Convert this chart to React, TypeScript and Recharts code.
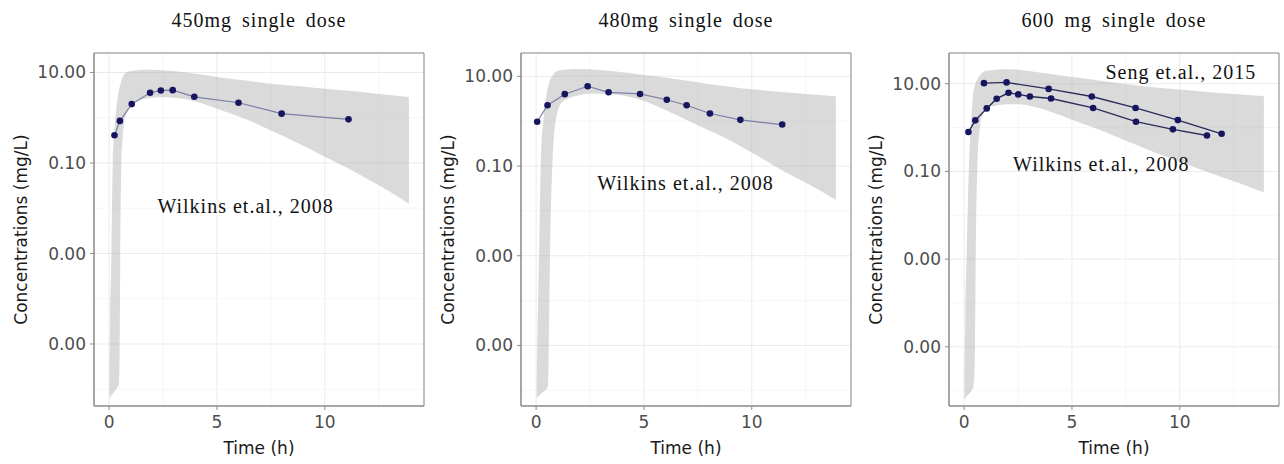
import React from "react";
import {
  ComposedChart,
  Line,
  Area,
  XAxis,
  YAxis,
  CartesianGrid,
  ReferenceArea,
  ReferenceDot,
} from "recharts";

const wilkins450Time = [0.25, 0.5, 1.05, 1.9, 2.4, 2.95, 3.95, 6, 8, 11.1];
const wilkins450Conc = [0.41, 0.85, 2.0, 3.55, 4.0, 4.07, 2.9, 2.14, 1.23, 0.92];

const wilkins480Time = [0.05, 0.53, 1.33, 2.39, 3.36, 4.82, 6.06, 6.98, 8.06, 9.47, 11.41];
const wilkins480Conc = [0.97, 2.27, 4.0, 6.0, 4.4, 4.05, 3.0, 2.27, 1.48, 1.07, 0.84];

const seng600Time = [0.92, 1.97, 3.92, 5.92, 7.95, 9.91, 11.94];
const seng600Conc = [10.3, 10.7, 7.6, 5.1, 2.8, 1.48, 0.72];

const wilkins600Time = [0.2, 0.52, 1.05, 1.51, 2.06, 2.51, 3.05, 4.03, 5.98, 7.97, 9.68, 11.26];
const wilkins600Conc = [0.79, 1.46, 2.73, 4.55, 6.2, 5.7, 5.1, 4.6, 2.8, 1.36, 0.91, 0.66];

// Simulated 90% prediction band, stored as log10(mg/L)
const band450Time = [0.02, 0.05, 0.11, 0.17, 0.23, 0.29, 0.37, 0.45, 0.49, 0.52, 0.57, 0.63, 0.7, 0.8, 1, 1.3, 1.6, 2, 2.5, 3, 4, 5, 6, 7, 8, 9, 10, 11, 12, 13, 13.9];
const band450Low = [-6.2, -6.18, -6.14, -6.1, -6.06, -6.02, -5.97, -5.9, -5.2, -3.0, -1.0, -0.45, -0.1, 0.1, 0.28, 0.36, 0.41, 0.44, 0.45, 0.44, 0.36, 0.2, 0.03, -0.17, -0.39, -0.62, -0.86, -1.1, -1.36, -1.63, -1.9];
const band450High = [-5.7, -4.5, -3.0, -1.0, -0.4, 0.0, 0.35, 0.6, 0.68, 0.74, 0.82, 0.9, 0.96, 1.0, 1.03, 1.05, 1.06, 1.06, 1.05, 1.03, 0.97, 0.9, 0.84, 0.78, 0.73, 0.69, 0.64, 0.6, 0.55, 0.5, 0.46];

const band480Time = [0.03, 0.08, 0.14, 0.22, 0.34, 0.5, 0.56, 0.6, 0.65, 0.76, 0.92, 1.2, 1.6, 2, 2.5, 3, 4, 5, 6, 7, 8, 9, 10, 11, 12, 13, 13.9];
const band480Low = [-6.18, -6.15, -6.12, -6.08, -6.03, -5.95, -5.87, -4.6, -2.9, -0.9, 0.04, 0.42, 0.53, 0.58, 0.61, 0.61, 0.57, 0.45, 0.25, 0.02, -0.2, -0.43, -0.7, -0.98, -1.25, -1.5, -1.76];
const band480High = [-5.8, -4.3, -2.9, -0.9, 0.04, 0.64, 0.78, 0.85, 0.92, 1.02, 1.1, 1.14, 1.16, 1.165, 1.16, 1.14, 1.09, 1.03, 0.97, 0.9, 0.83, 0.77, 0.71, 0.67, 0.63, 0.59, 0.556];

const band600Time = [0.02, 0.06, 0.12, 0.23, 0.31, 0.43, 0.5, 0.54, 0.62, 0.74, 0.85, 1, 1.5, 2, 2.5, 3, 4, 5, 6, 7, 8, 9, 10, 11, 12, 13, 13.9];
const band600Low = [-6.2, -6.17, -6.13, -6.07, -6.02, -5.92, -5.3, -2.86, -0.8, 0.03, 0.3, 0.45, 0.5, 0.53, 0.53, 0.5, 0.36, 0.18, 0.0, -0.2, -0.4, -0.6, -0.78, -0.96, -1.14, -1.31, -1.48];
const band600High = [-5.7, -4.2, -2.86, -0.8, 0.03, 0.8, 0.95, 1.02, 1.1, 1.2, 1.26, 1.29, 1.32, 1.33, 1.32, 1.29, 1.22, 1.15, 1.09, 1.02, 0.96, 0.91, 0.87, 0.82, 0.78, 0.75, 0.72];

const xTicks = [0, 5, 10];
const xMinorTicks = [2.5, 7.5, 12.5];
const yTicks = [10, 0.1, 0.001, 0.00001];
const yMinorTicks = [1, 0.01, 0.0001, 0.000001];

const X_DOMAIN: [number, number] = [-0.7, 14.6];

const SANS = "'DejaVu Sans', sans-serif";
const SERIF = "'Liberation Serif', 'Times New Roman', serif";
const DOT_COLOR = "#161660";

const points = (t: number[], c: number[]) => t.map((time, i) => ({ t: time, c: c[i] }));
const bandRows = (t: number[], lo: number[], hi: number[]) =>
  t.map((time, i) => ({ t: time, range: [10 ** lo[i], 10 ** hi[i]] }));

type Series = { name: string; data: { t: number; c: number }[]; color: string; width: number };
type Note = { text: string; t: number; c: number };

const renderYLabel = (props: any) => {
  const vb = props.viewBox;
  const x = vb.x + 21;
  const y = vb.y + vb.height / 2;
  return (
    <text
      x={x}
      y={y}
      transform={`rotate(-90 ${x} ${y})`}
      textAnchor="middle"
      dominantBaseline="central"
      fill="#1a1a1a"
      fontSize={17}
      fontFamily={SANS}
    >
      Concentrations (mg/L)
    </text>
  );
};

function Panel({
  title,
  left,
  yLogDomain,
  band,
  series,
  notes,
}: {
  title: string;
  left: number;
  yLogDomain: [number, number];
  band: { t: number; range: number[] }[];
  series: Series[];
  notes: Note[];
}) {
  const yDomain: [number, number] = [10 ** yLogDomain[0], 10 ** yLogDomain[1]];
  return (
    <div style={{ position: "absolute", left, top: 0, width: 428, height: 464 }}>
      <div
        style={{
          position: "absolute",
          left: 94,
          width: 330,
          top: 7,
          textAlign: "center",
          fontFamily: SERIF,
          fontSize: 20,
          lineHeight: "26px",
          letterSpacing: 1,
          wordSpacing: 4,
          color: "#111",
        }}
      >
        {title}
      </div>
      <ComposedChart width={428} height={464} margin={{ top: 53, right: 4, bottom: 0, left: 0 }}>
        <CartesianGrid stroke="#ebebeb" strokeWidth={1} />
        <CartesianGrid stroke="#f2f2f2" strokeWidth={0.7} xAxisId="minor" yAxisId="minor" />
        <XAxis
          xAxisId="minor"
          type="number"
          dataKey="t"
          domain={X_DOMAIN}
          ticks={xMinorTicks}
          allowDataOverflow
          hide
        />
        <YAxis
          yAxisId="minor"
          type="number"
          scale="log"
          domain={yDomain}
          ticks={yMinorTicks}
          allowDataOverflow
          hide
        />
        <XAxis
          type="number"
          dataKey="t"
          domain={X_DOMAIN}
          ticks={xTicks}
          allowDataOverflow
          height={58}
          tickSize={4}
          tickMargin={6}
          stroke="#8c8c8c"
          tick={{ fill: "#4d4d4d", fontSize: 17, fontFamily: SANS }}
          label={{
            value: "Time (h)",
            position: "insideBottom",
            offset: 10,
            fill: "#1a1a1a",
            fontSize: 17,
            fontFamily: SANS,
          }}
        />
        <YAxis
          type="number"
          scale="log"
          domain={yDomain}
          ticks={yTicks}
          allowDataOverflow
          width={94}
          tickSize={4}
          tickMargin={4}
          stroke="#8c8c8c"
          tickFormatter={(v: number) => v.toFixed(2)}
          tick={{ fill: "#4d4d4d", fontSize: 17, fontFamily: SANS }}
          label={renderYLabel}
        />
        <Area
          data={band}
          dataKey="range"
          type="monotone"
          stroke="none"
          fill="#a6a6a6"
          fillOpacity={0.42}
          isAnimationActive={false}
          activeDot={false}
        />
        {series.map((s) => (
          <Line
            key={s.name}
            name={s.name}
            data={s.data}
            dataKey="c"
            type="linear"
            stroke={s.color}
            strokeWidth={s.width}
            dot={{ r: 3.3, fill: DOT_COLOR, stroke: DOT_COLOR, strokeWidth: 0 }}
            activeDot={false}
            isAnimationActive={false}
          />
        ))}
        <ReferenceArea
          x1={X_DOMAIN[0]}
          x2={X_DOMAIN[1]}
          y1={yDomain[0]}
          y2={yDomain[1]}
          fill="none"
          stroke="#8c8c8c"
          strokeWidth={1}
        />
        {notes.map((n) => (
          <ReferenceDot
            key={n.text}
            x={n.t}
            y={n.c}
            r={1}
            fill="none"
            stroke="none"
            label={{
              value: n.text,
              position: "center",
              fill: "#111",
              fontSize: 20,
              fontFamily: SERIF,
              letterSpacing: 1,
              style: { letterSpacing: "1px" },
            }}
          />
        ))}
      </ComposedChart>
    </div>
  );
}

export default function App() {
  return (
    <div style={{ position: "absolute", left: 0, top: 0, width: 1284, height: 464, background: "#fff" }}>
      <Panel
        title="450mg single dose"
        left={0}
        yLogDomain={[-6.37, 1.43]}
        band={bandRows(band450Time, band450Low, band450High)}
        series={[{ name: "Wilkins 2008", data: points(wilkins450Time, wilkins450Conc), color: "#7d7da6", width: 1.2 }]}
        notes={[{ text: "Wilkins et.al., 2008", t: 6.33, c: 0.011 }]}
      />
      <Panel
        title="480mg single dose"
        left={427}
        yLogDomain={[-6.35, 1.52]}
        band={bandRows(band480Time, band480Low, band480High)}
        series={[{ name: "Wilkins 2008", data: points(wilkins480Time, wilkins480Conc), color: "#7d7da6", width: 1.2 }]}
        notes={[{ text: "Wilkins et.al., 2008", t: 6.93, c: 0.043 }]}
      />
      <Panel
        title="600 mg single dose"
        left={855}
        yLogDomain={[-6.35, 1.7]}
        band={bandRows(band600Time, band600Low, band600High)}
        series={[
          { name: "Seng 2015", data: points(seng600Time, seng600Conc), color: "#2b2b5c", width: 1.4 },
          { name: "Wilkins 2008", data: points(wilkins600Time, wilkins600Conc), color: "#2b2b5c", width: 1.4 },
        ]}
        notes={[
          { text: "Seng et.al., 2015", t: 10.05, c: 19 },
          { text: "Wilkins et.al., 2008", t: 6.36, c: 0.148 },
        ]}
      />
    </div>
  );
}
